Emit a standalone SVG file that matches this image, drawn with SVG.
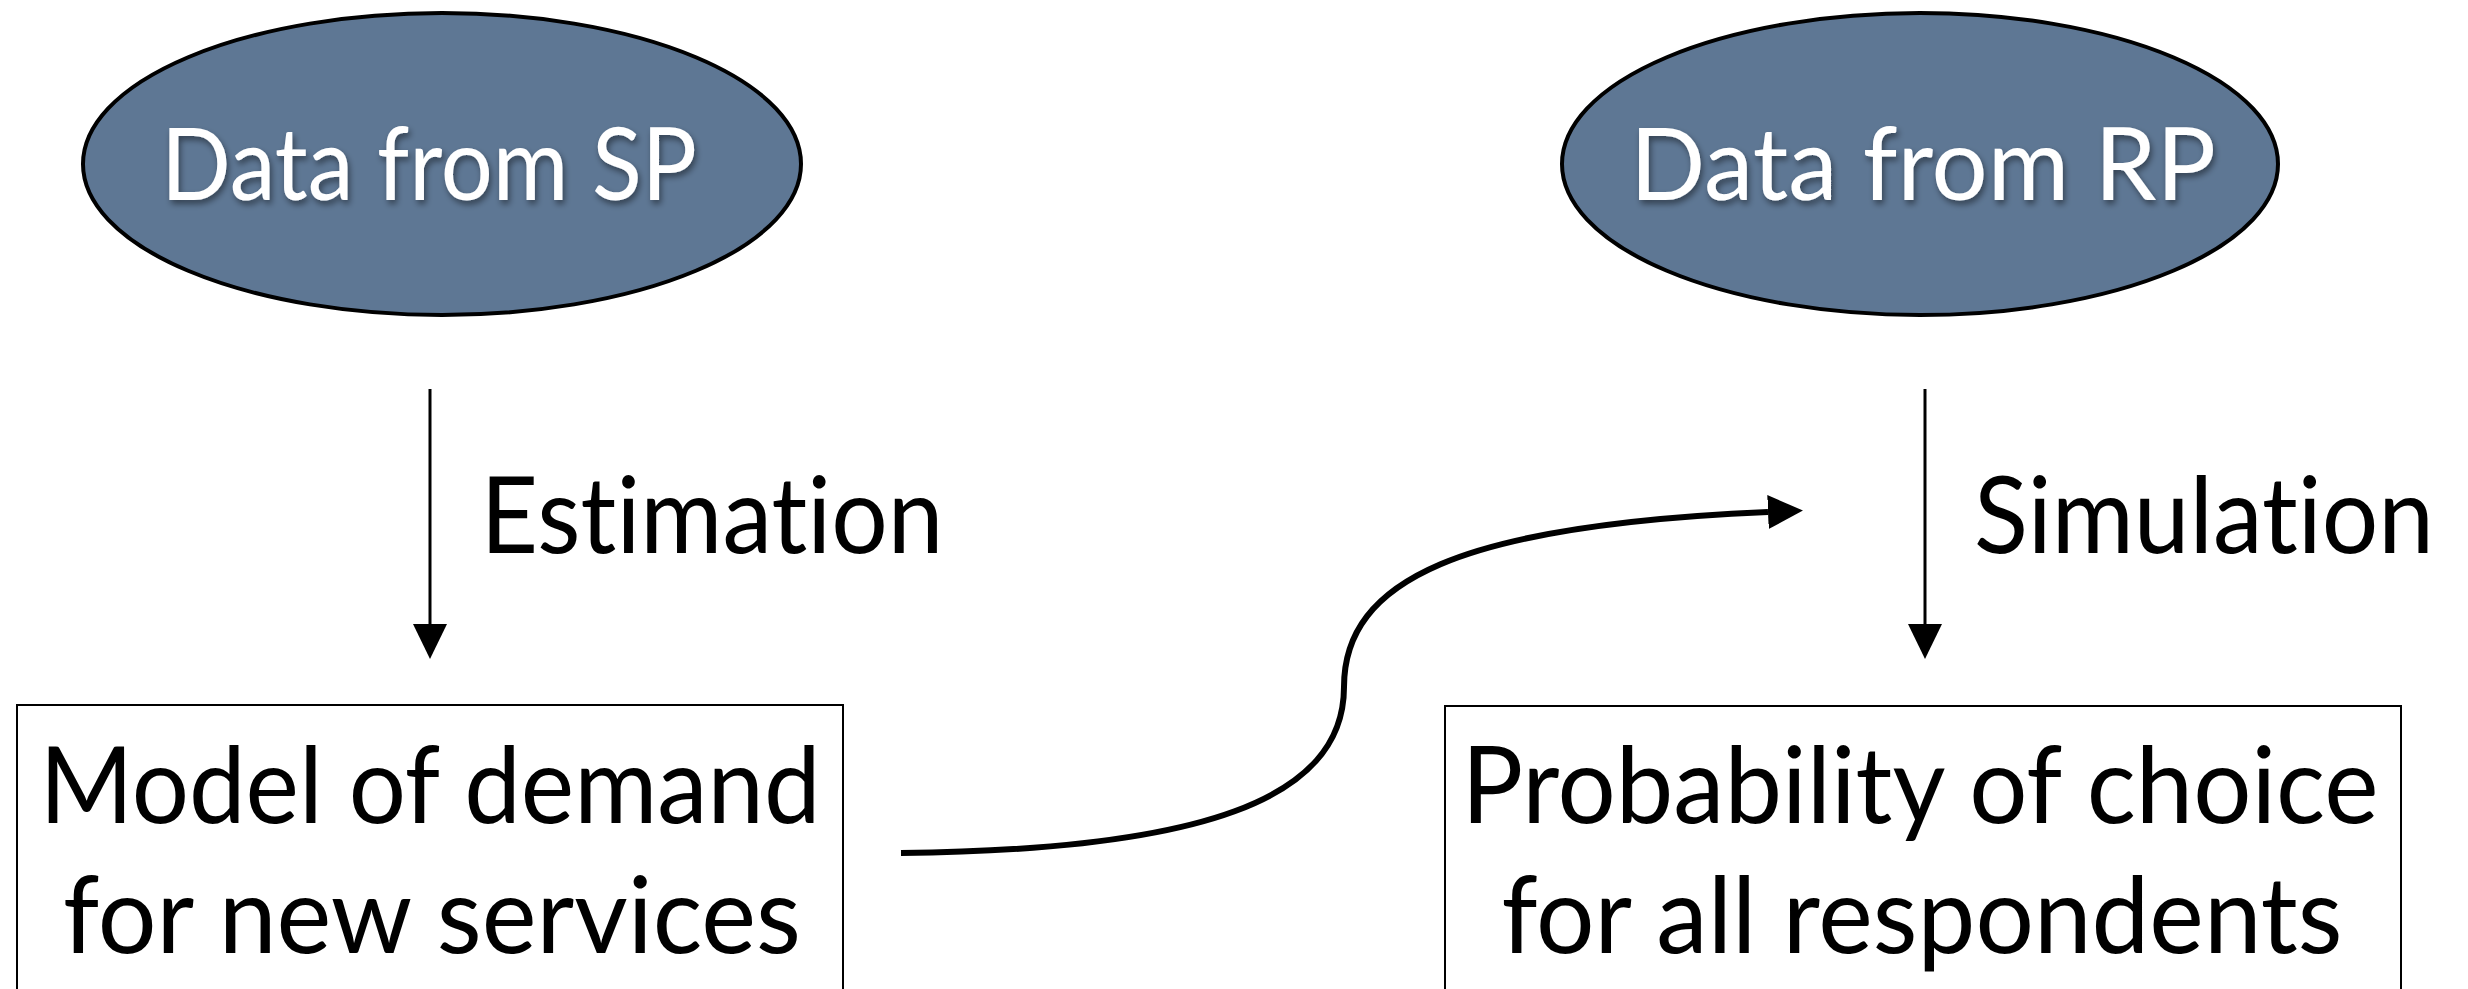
<svg xmlns="http://www.w3.org/2000/svg" width="2468" height="989" viewBox="0 0 2468 989">
  <style>
    .ell { fill: #5e7794; stroke: #000; stroke-width: 4; }
    .box { fill: #fff; stroke: #000; stroke-width: 2; }
    .wt { font-family: Lato, "Open Sans", "Liberation Sans", sans-serif; font-size: 100px; fill: #fff; text-anchor: middle; font-variant-ligatures: none; }
    .bt { font-family: Lato, "Open Sans", "Liberation Sans", sans-serif; font-size: 106px; fill: #000; text-anchor: middle; font-variant-ligatures: none; }
    .ln { fill: none; stroke: #000; stroke-width: 3; }
    .cv { fill: none; stroke: #000; stroke-width: 6; }
  </style>
  <defs>
    <marker id="ah" markerUnits="userSpaceOnUse" markerWidth="36" markerHeight="36" refX="0" refY="17" orient="auto" viewBox="0 0 36 36">
      <path d="M0,0 L35,17 L0,34 z" fill="#000"/>
    </marker>
    <filter id="sh" x="-10%" y="-10%" width="120%" height="130%">
      <feDropShadow dx="2" dy="4" stdDeviation="3" flood-color="#000" flood-opacity="0.45"/>
    </filter>
  </defs>
  <rect width="2468" height="989" fill="#fff"/>

  <g id="node-sp">
    <ellipse class="ell" cx="442" cy="164" rx="359" ry="151"/>
    <text class="wt" x="429" y="200" textLength="536" lengthAdjust="spacingAndGlyphs" filter="url(#sh)">Data from SP</text>
  </g>

  <g id="node-rp">
    <ellipse class="ell" cx="1920" cy="164" rx="358" ry="151"/>
    <text class="wt" x="1923" y="200" textLength="586" lengthAdjust="spacingAndGlyphs" filter="url(#sh)">Data from RP</text>
  </g>

  <g id="node-model">
    <rect class="box" x="17" y="705" width="826" height="300"/>
    <text class="bt" x="430" y="823" textLength="781" lengthAdjust="spacingAndGlyphs">Model of demand</text>
    <text class="bt" x="432" y="953" textLength="738" lengthAdjust="spacingAndGlyphs">for new services</text>
  </g>

  <g id="node-prob">
    <rect class="box" x="1445" y="706" width="956" height="300"/>
    <text class="bt" x="1920" y="823" textLength="917" lengthAdjust="spacingAndGlyphs">Probability of choice</text>
    <text class="bt" x="1922" y="953" textLength="841" lengthAdjust="spacingAndGlyphs">for all respondents</text>
  </g>

  <g id="connectors">
    <path class="ln" d="M430,389 L430,624" marker-end="url(#ah)"/>
    <text class="bt" x="712" y="553" textLength="463" lengthAdjust="spacingAndGlyphs">Estimation</text>
    <path class="ln" d="M1925,389 L1925,624" marker-end="url(#ah)"/>
    <text class="bt" x="2204" y="553" textLength="460" lengthAdjust="spacingAndGlyphs">Simulation</text>
    <path class="cv" d="M901,853 C1200,850 1344,800 1344,687 C1344,580 1460,525 1768,512" marker-end="url(#ah)"/>
  </g>
</svg>
